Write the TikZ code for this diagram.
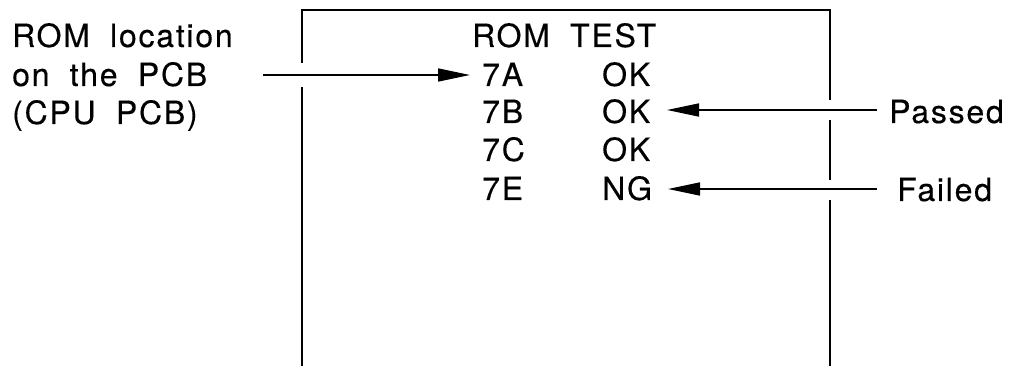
\documentclass[tikz,border=0pt]{standalone}
\usepackage{fontspec}
\setmainfont{TeX Gyre Heros}[LetterSpace=5.5,WordSpace=1.9,FakeBold=0.3]
\usetikzlibrary{arrows.meta}
\begin{document}
\begin{tikzpicture}[x=1pt,y=-1pt,
  txt/.style={anchor=base west,inner sep=0pt,font=\fontsize{32}{34}\selectfont},
  frame/.style={line width=2pt},
  pointer/.style={line width=1.6pt,-{Triangle[length=32pt,width=13pt]}}]
\useasboundingbox (0,0) rectangle (1013,366);
% texts
\node[txt] (l1) at (12,47) {ROM location};
\node[txt] (l2) at (12,86) {on the PCB};
\node[txt] (l3) at (12,124) {(CPU PCB)};
\node[txt] (title) at (472,47) {ROM TEST};
\node[txt] (a) at (482,86) {7A};
\node[txt] (b) at (482,123) {7B};
\node[txt] (c) at (482,161) {7C};
\node[txt] (e) at (482,200) {7E};
\node[txt] (ao) at (602,86) {OK};
\node[txt] (bo) at (602,123) {OK};
\node[txt] (co) at (602,161) {OK};
\node[txt] (en) at (602,200) {NG};
\node[txt] (pass) at (889,123) {Passed};
\node[txt] (fail) at (897,201) {Failed};
% frame (open at the bottom, broken where the arrows cross)
\draw[frame] (302,366) -- (302,87);
\draw[frame] (302,63) -- (302,10) -- (830,10) -- (830,100);
\draw[frame] (830,120) -- (830,180);
\draw[frame] (830,200) -- (830,366);
% arrows
\coordinate (t1) at (263,75);
\coordinate (t2) at (877,110);
\coordinate (t3) at (877,189);
\coordinate (h1) at (470,75);
\coordinate (h2) at (667,110);
\coordinate (h3) at (668,189);
\draw[pointer] (t1) -- (h1);
\draw[pointer] (t2) -- (h2);
\draw[pointer] (t3) -- (h3);
\end{tikzpicture}
\end{document}
